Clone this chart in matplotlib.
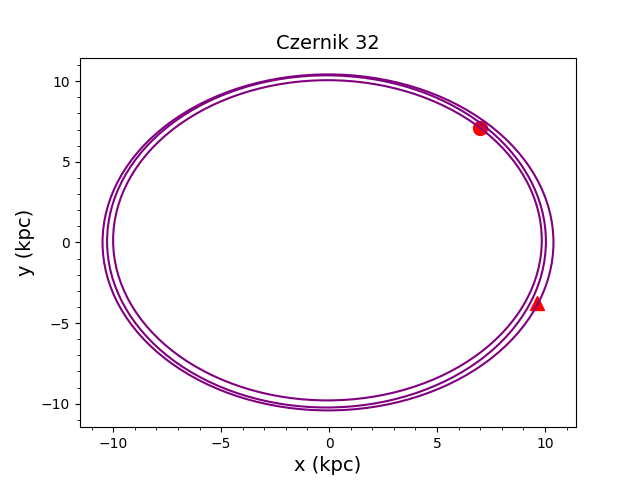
import matplotlib
matplotlib.use('Agg')
import matplotlib.pyplot as plt
from matplotlib.patches import Ellipse

# orbit loops: centre x, centre y, width, height (kpc)
loop_cx = [-0.05, -0.12, -0.075]
loop_cy = [0.0, 0.06, 0.13]
loop_w = [20.88, 20.32, 19.85]
loop_h = [20.84, 20.60, 19.86]

# present position and end point of the orbit
start_xy = (7.0, 7.08)
end_xy = (9.65, -3.73)

fig, ax = plt.subplots(figsize=(6.4, 4.8), dpi=100)

ax.plot(start_xy[0], start_xy[1], 'o', color='red', markersize=10)
ax.plot(end_xy[0], end_xy[1], '^', color='red', markersize=10)

for cx, cy, w, h in zip(loop_cx, loop_cy, loop_w, loop_h):
    ax.add_patch(Ellipse((cx, cy), w, h, fill=False, edgecolor='purple',
                         linewidth=1.5, zorder=3))

ax.autoscale_view()
ax.minorticks_on()
ax.set_xlabel('x (kpc)', fontsize=14)
ax.set_ylabel('y (kpc)', fontsize=14)
ax.set_title('Czernik 32', fontsize=14)

plt.savefig('out.png', dpi=100)
